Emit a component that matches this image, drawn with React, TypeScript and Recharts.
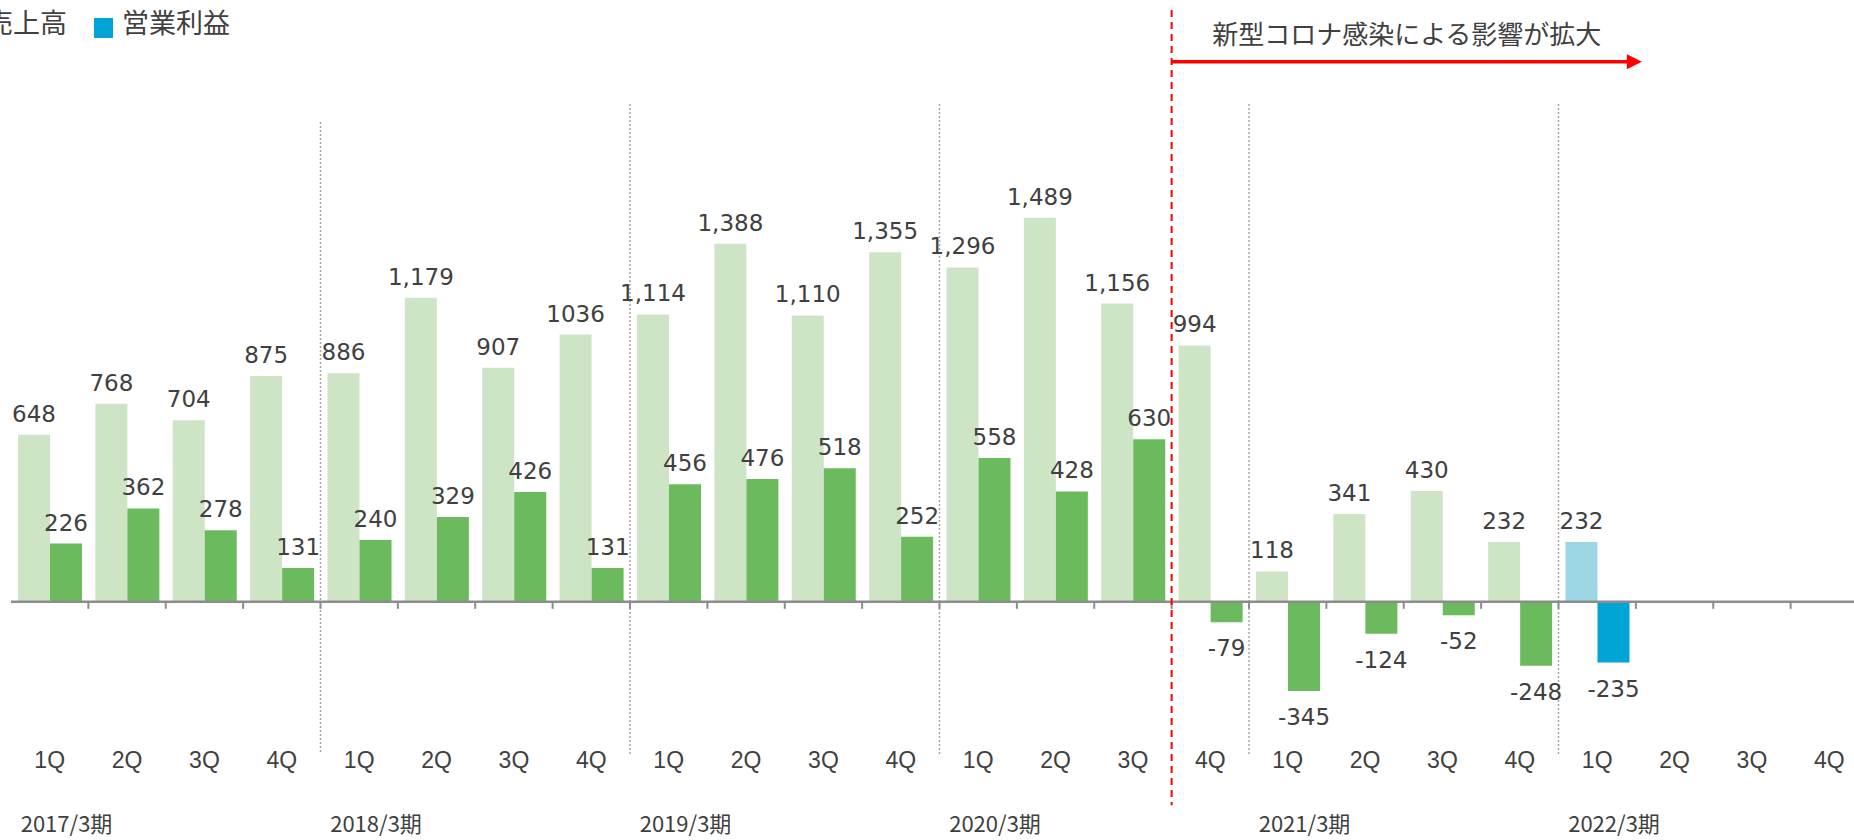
import React from 'react';
import { BarChart, Bar, XAxis, YAxis, ReferenceLine, LabelList, Cell, Legend } from 'recharts';

const years = ['2017/3期', '2018/3期', '2019/3期', '2020/3期', '2021/3期', '2022/3期'];
const quarters = ['1Q', '2Q', '3Q', '4Q'];

// 売上高 (quarterly)
const salesValues: (number | null)[] = [
  648, 768, 704, 875,
  886, 1179, 907, 1036,
  1114, 1388, 1110, 1355,
  1296, 1489, 1156, 994,
  118, 341, 430, 232,
  232, null, null, null,
];

// 営業利益 (quarterly)
const profitValues: (number | null)[] = [
  226, 362, 278, 131,
  240, 329, 426, 131,
  456, 476, 518, 252,
  558, 428, 630, -79,
  -345, -124, -52, -248,
  -235, null, null, null,
];

const currentYear = '2022/3期';
const covidStartKey = '2020/3期 4Q';
const arrowEndKey = '2022/3期 2Q';
const annotationText = '新型コロナ感染による影響が拡大';
const salesNoCommaKeys = ['2018/3期 4Q'];

const COLORS = {
  sales: '#CEE5C5',
  profit: '#6CBA5E',
  salesCur: '#9DD6E5',
  profitCur: '#00A5D6',
  text: '#404040',
  axis: '#8C8C8C',
  sep: '#A6A6A6',
  red: '#FF0000',
};

const data = years.flatMap((y, yi) =>
  quarters.map((q, qi) => ({
    key: `${y} ${q}`,
    year: y,
    quarter: q,
    sales: salesValues[yi * 4 + qi],
    profit: profitValues[yi * 4 + qi],
  }))
);

const legendItems = [
  { name: '売上高', color: COLORS.salesCur },
  { name: '営業利益', color: COLORS.profitCur },
];

const QuarterTick = (props: any) => {
  const { x, y, payload } = props;
  const [year, q] = String(payload.value).split(' ');
  return (
    <g>
      <text x={x} y={y + 6} textAnchor="middle" dominantBaseline="central"
        fontFamily="'Liberation Sans', Arial, sans-serif" fontSize={23} fill={COLORS.text}>{q}</text>
      {q === '1Q' && (
        <text x={x - 29} y={y + 68} textAnchor="start" dominantBaseline="central"
          fontFamily="'Noto Sans CJK JP', sans-serif" fontSize={22} fill={COLORS.text}>{year}</text>
      )}
    </g>
  );
};

const fmtComma = (v: number) => v.toLocaleString('en-US');

const makeLabel = (kind: 'sales' | 'profit') => (props: any) => {
  const vb = props.viewBox || props;
  const { x, y, width, height } = vb;
  const value = props.value;
  if (value == null) return null;
  const top = Math.min(y, y + height);
  const bottom = Math.max(y, y + height);
  const cx = x + width / 2;
  const cy = value >= 0 ? top - 21 : bottom + 26;
  const entry = data[props.index];
  let txt = fmtComma(value);
  if (kind === 'sales' && entry && salesNoCommaKeys.includes(entry.key)) txt = String(value);
  return (
    <text x={cx} y={cy} textAnchor="middle" dominantBaseline="central"
      fontFamily="'DejaVu Sans', Verdana, sans-serif" fontSize={23} fill={COLORS.text}>{txt}</text>
  );
};

const ArrowShape = (props: any) => {
  const { x1, y1, x2, y2 } = props;
  const tip = x2 + 6;
  return (
    <g>
      <line x1={x1} y1={y1} x2={tip - 12} y2={y2} stroke={COLORS.red} strokeWidth={3.5} />
      <polygon points={`${tip},${y2} ${tip - 15},${y2 - 7.5} ${tip - 15},${y2 + 7.5}`} fill={COLORS.red} />
      <text x={(x1 + tip) / 2} y={y1 - 29} textAnchor="middle" dominantBaseline="central"
        fontFamily="'Noto Sans CJK JP', sans-serif" fontSize={26} fill={COLORS.text}>{annotationText}</text>
    </g>
  );
};

const LegendContent = () => (
  <div style={{ display: 'flex', alignItems: 'center', fontFamily: "'Noto Sans CJK JP', sans-serif", fontSize: 27, color: COLORS.text, whiteSpace: 'nowrap', lineHeight: '39px' }}>
    {legendItems.map((it, i) => (
      <div key={it.name} style={{ display: 'flex', alignItems: 'center', marginRight: i === 0 ? 27 : 0 }}>
        <span style={{ display: 'inline-block', width: 19, height: 20, background: it.color, marginRight: 9, marginTop: 12 }} />
        <span>{it.name}</span>
      </div>
    ))}
  </div>
);

const firstSepKey = `${years[1]} 1Q`;
const yearStartKeys = years.slice(2).map((y) => `${y} 1Q`);
const tickKeys = data.slice(1).map((d) => d.key);

export default function App() {
  return (
    <div style={{ position: 'absolute', left: 0, top: 0, width: 1854, height: 840, overflow: 'hidden', background: '#fff' }}>
      <BarChart width={1900} height={840} data={data}
        margin={{ top: 103.9, right: 32, bottom: 0, left: 11 }}
        barGap={0} barSize={32}>
        <XAxis dataKey="key" interval={0} axisLine={false} tickLine={false} tickSize={0} tickMargin={0}
          height={85.9} tick={<QuarterTick />} />
        <YAxis hide domain={[-590, 1930]} allowDataOverflow />
        <Legend verticalAlign="middle" align="center" content={<LegendContent />}
          wrapperStyle={{ left: -42, top: 2, width: 'auto' }} />
        <ReferenceLine position="start" ifOverflow="visible"
          segment={[{ x: firstSepKey, y: 1860 }, { x: firstSepKey, y: -590 }]}
          stroke={COLORS.sep} strokeWidth={1.5} strokeDasharray="2 2" />
        {yearStartKeys.map((k) => (
          <ReferenceLine key={`sep-${k}`} x={k} position="start" stroke={COLORS.sep}
            strokeWidth={1.5} strokeDasharray="2 2" />
        ))}
        <Bar dataKey="sales" name="売上高" isAnimationActive={false}>
          {data.map((d) => (
            <Cell key={`s-${d.key}`} fill={d.year === currentYear ? COLORS.salesCur : COLORS.sales} />
          ))}
          <LabelList dataKey="sales" content={makeLabel('sales')} />
        </Bar>
        <Bar dataKey="profit" name="営業利益" isAnimationActive={false}>
          {data.map((d) => (
            <Cell key={`p-${d.key}`} fill={d.year === currentYear ? COLORS.profitCur : COLORS.profit} />
          ))}
          <LabelList dataKey="profit" content={makeLabel('profit')} />
        </Bar>
        <ReferenceLine y={0} stroke={COLORS.axis} strokeWidth={2.5} />
        {tickKeys.map((k) => (
          <ReferenceLine key={`tick-${k}`} position="start" ifOverflow="visible"
            segment={[{ x: k, y: 0 }, { x: k, y: -27 }]} stroke={COLORS.axis} strokeWidth={2} />
        ))}
        <ReferenceLine position="start" ifOverflow="visible"
          segment={[{ x: covidStartKey, y: 2294 }, { x: covidStartKey, y: -788 }]}
          stroke={COLORS.red} strokeWidth={2} strokeDasharray="7 5" />
        <ReferenceLine position="start" ifOverflow="visible"
          segment={[{ x: covidStartKey, y: 2093 }, { x: arrowEndKey, y: 2093 }]}
          shape={<ArrowShape />} />
      </BarChart>
    </div>
  );
}
